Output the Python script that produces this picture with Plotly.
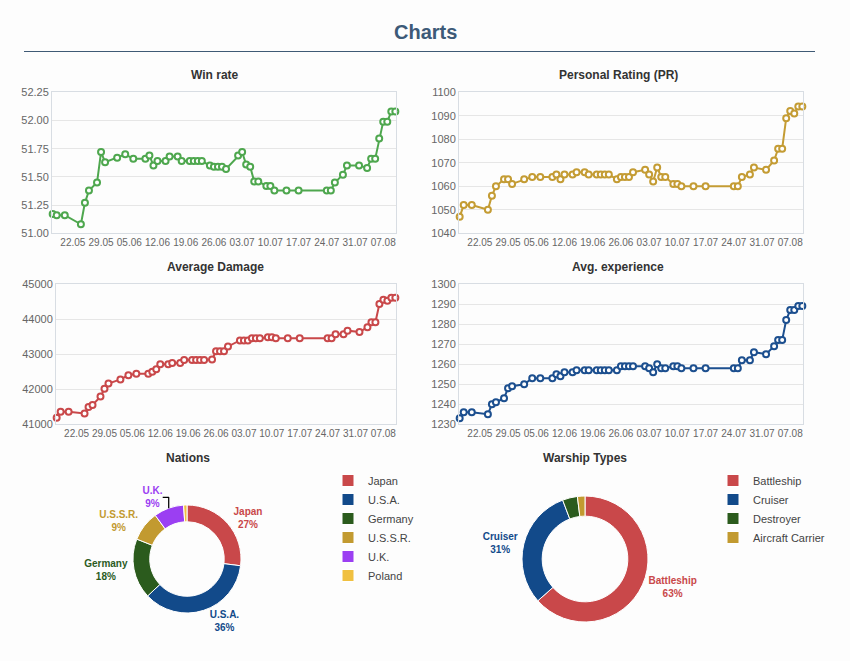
import plotly.graph_objects as go

W, H = 850, 661

# ---------------- data ----------------
dates = [
    "2017-05-17", "2017-05-18", "2017-05-20", "2017-05-24", "2017-05-25", "2017-05-26",
    "2017-05-28", "2017-05-29", "2017-05-30", "2017-06-02", "2017-06-04", "2017-06-06",
    "2017-06-09", "2017-06-10", "2017-06-11", "2017-06-12", "2017-06-14", "2017-06-15",
    "2017-06-17", "2017-06-18", "2017-06-20", "2017-06-21", "2017-06-22", "2017-06-23",
    "2017-06-25", "2017-06-26", "2017-06-27", "2017-06-28", "2017-06-29", "2017-07-02",
    "2017-07-03", "2017-07-04", "2017-07-05", "2017-07-06", "2017-07-07", "2017-07-09",
    "2017-07-10", "2017-07-11", "2017-07-14", "2017-07-17", "2017-07-24", "2017-07-25",
    "2017-07-26", "2017-07-28", "2017-07-29", "2017-08-01", "2017-08-03", "2017-08-04",
    "2017-08-05", "2017-08-06", "2017-08-07", "2017-08-08", "2017-08-09", "2017-08-10",
]

win_rate = [
    51.17, 51.16, 51.16, 51.08, 51.27, 51.38, 51.45, 51.72, 51.63, 51.67,
    51.70, 51.66, 51.66, 51.69, 51.60, 51.64, 51.64, 51.68, 51.68, 51.64,
    51.64, 51.64, 51.64, 51.64, 51.60, 51.59, 51.59, 51.59, 51.57, 51.69,
    51.72, 51.61, 51.59, 51.46, 51.46, 51.42, 51.42, 51.38, 51.38, 51.38,
    51.38, 51.38, 51.45, 51.52, 51.60, 51.60, 51.58, 51.66, 51.66, 51.84,
    51.99, 51.99, 52.08, 52.08,
]

personal_rating = [
    1047, 1052, 1052, 1050, 1056, 1060, 1063, 1063, 1061, 1063,
    1064, 1064, 1064, 1065, 1063, 1065, 1065, 1066, 1066, 1065,
    1065, 1065, 1065, 1065, 1063, 1064, 1064, 1064, 1066, 1067,
    1065, 1062, 1068, 1064, 1064, 1061, 1061, 1060, 1060, 1060,
    1060, 1060, 1064, 1065, 1068, 1067, 1071, 1076, 1076, 1089,
    1092, 1091, 1094, 1094,
]

avg_damage = [
    41190, 41360, 41360, 41310, 41490, 41550, 41790, 42010, 42160, 42280,
    42400, 42440, 42440, 42500, 42570, 42710, 42710, 42750, 42750, 42830,
    42830, 42830, 42830, 42830, 42850, 43080, 43080, 43080, 43220, 43390,
    43390, 43390, 43450, 43450, 43450, 43480, 43480, 43450, 43450, 43450,
    43450, 43450, 43570, 43570, 43670, 43630, 43770, 43910, 43910, 44430,
    44550, 44520, 44610, 44610,
]

avg_exp = [
    1233, 1236, 1236, 1235, 1240, 1241, 1243, 1248, 1249, 1250,
    1253, 1253, 1253, 1255, 1254, 1256, 1256, 1257, 1257, 1257,
    1257, 1257, 1257, 1257, 1257, 1259, 1259, 1259, 1259, 1259,
    1258, 1256, 1260, 1258, 1258, 1259, 1259, 1258, 1258, 1258,
    1258, 1258, 1262, 1262, 1266, 1265, 1269, 1272, 1272, 1282,
    1287, 1287, 1289, 1289,
]

nations = ["Japan", "U.S.A.", "Germany", "U.S.S.R.", "U.K.", "Poland"]
nation_values = [27, 36, 18, 9, 9, 1]

ship_types = ["Battleship", "Cruiser", "Destroyer", "Aircraft Carrier"]
ship_values = [33, 16, 2, 1]

# ---------------- styles ----------------
FONT = "Liberation Sans, Arial, sans-serif"
GREEN = "#4ea74e"
GOLD = "#c49c34"
RED = "#c9484a"
BLUE = "#1c4f8f"
nation_colors = ["#c9484a", "#124a8a", "#2b5b1d", "#c29a30", "#9b3ff2", "#f0c040"]
ship_colors = ["#c9484a", "#124a8a", "#2b5b1d", "#c29a30"]


def px_x(p):
    return p / W


def px_y(p):
    return 1 - p / H


fig = go.Figure()

line_specs = [
    (win_rate, GREEN, "x", "y"),
    (personal_rating, GOLD, "x2", "y2"),
    (avg_damage, RED, "x3", "y3"),
    (avg_exp, BLUE, "x4", "y4"),
]
for vals, col, xa, ya in line_specs:
    fig.add_trace(go.Scatter(
        x=dates, y=vals, mode="lines+markers", xaxis=xa, yaxis=ya,
        line=dict(color=col, width=2),
        marker=dict(symbol="circle", size=6, color="white",
                    line=dict(color=col, width=2)),
        cliponaxis=False, showlegend=False, hoverinfo="x+y",
    ))

# donuts
nation_tpl = ["<b>%{label}</b><br><b>%{percent:.0%}</b>"] * 5 + [""]
nation_pos = ["outside"] * 5 + ["none"]
fig.add_trace(go.Pie(
    labels=nations, values=nation_values, hole=0.69, sort=False,
    direction="clockwise", rotation=0,
    marker=dict(colors=nation_colors, line=dict(color="white", width=1)),
    texttemplate=nation_tpl, textposition=nation_pos,
    outsidetextfont=dict(color=nation_colors, size=10, family=FONT),
    domain=dict(x=[px_x(133), px_x(241)], y=[px_y(613), px_y(505)]),
    legend="legend", showlegend=True, automargin=False,
))
fig.add_trace(go.Pie(
    labels=ship_types, values=ship_values, hole=0.68, sort=False,
    direction="clockwise", rotation=0,
    marker=dict(colors=ship_colors, line=dict(color="white", width=1)),
    texttemplate=["<b>%{label}</b><br><b>%{percent:.0%}</b>"] * 2 + ["", ""],
    textposition=["outside", "outside", "none", "none"],
    outsidetextfont=dict(color=ship_colors, size=10, family=FONT),
    domain=dict(x=[px_x(522), px_x(648)], y=[px_y(622), px_y(496)]),
    legend="legend2", showlegend=True, automargin=False,
))

# ---------------- axes ----------------
xcommon = dict(
    type="date", range=["2017-05-16 20:00", "2017-08-10 04:00"],
    tick0="2017-05-22", dtick=7 * 24 * 3600 * 1000, tickformat="%d.%m",
    tickangle=0, automargin=False,
    showgrid=False, showline=True, linecolor="#d8dde3", linewidth=1, mirror=True,
    ticks="", tickfont=dict(size=10, color="#666666", family=FONT),
    zeroline=False,
)
ycommon = dict(
    showgrid=True, gridcolor="#e6e6e6", gridwidth=1, showline=True,
    linecolor="#d8dde3", mirror=True, ticks="", zeroline=False, automargin=False,
    tickfont=dict(size=11, color="#666666", family=FONT),
)

top_y = [px_y(233.3), px_y(92.3)]
bot_y = [px_y(424.3), px_y(284)]

fig.update_layout(
    xaxis=dict(domain=[px_x(52), px_x(396)], anchor="y", **xcommon),
    yaxis=dict(domain=top_y, anchor="x", range=[51.0, 52.25], dtick=0.25,
               tickformat=".2f", **ycommon),
    xaxis2=dict(domain=[px_x(459), px_x(803)], anchor="y2", **xcommon),
    yaxis2=dict(domain=top_y, anchor="x2", range=[1040, 1100], dtick=10,
                tickformat="d", **ycommon),
    xaxis3=dict(domain=[px_x(56), px_x(396)], anchor="y3", **xcommon),
    yaxis3=dict(domain=bot_y, anchor="x3", range=[41000, 45000], dtick=1000,
                tickformat="d", **ycommon),
    xaxis4=dict(domain=[px_x(459), px_x(803)], anchor="y4", **xcommon),
    yaxis4=dict(domain=bot_y, anchor="x4", range=[1230, 1300], dtick=10,
                tickformat="d", **ycommon),
)

# ---------------- titles ----------------
annots = [
    ("Charts", 425, 32, 20, "#3d5a78"),
    ("Win rate", 215, 75, 12, "#333333"),
    ("Personal Rating (PR)", 618, 75, 12, "#333333"),
    ("Average Damage", 215, 267, 12, "#333333"),
    ("Avg. experience", 618, 267, 12, "#333333"),
    ("Nations", 188, 458, 12, "#333333"),
    ("Warship Types", 585, 458, 12, "#333333"),
]
annotations = [
    dict(text=f"<b>{t}</b>", x=px_x(x), y=px_y(y), xref="paper", yref="paper",
         xanchor="center", yanchor="middle", showarrow=False,
         font=dict(size=s, color=c, family=FONT))
    for t, x, y, s, c in annots
]

fig.update_layout(
    width=W, height=H, autosize=False,
    margin=dict(l=0, r=0, t=0, b=0, pad=0, autoexpand=False),
    paper_bgcolor="#fdfdfd", plot_bgcolor="#fdfdfd",
    font=dict(family=FONT, color="#333333"),
    annotations=annotations,
    shapes=[dict(type="line", xref="paper", yref="paper",
                 x0=px_x(24), x1=px_x(815), y0=px_y(51.5), y1=px_y(51.5),
                 line=dict(color="#3f5a75", width=1))],
    legend=dict(x=px_x(328), y=px_y(466), xanchor="left", yanchor="top",
                font=dict(size=11, color="#444444", family=FONT),
                bgcolor="rgba(0,0,0,0)", itemwidth=30, tracegroupgap=0),
    legend2=dict(x=px_x(713), y=px_y(466), xanchor="left", yanchor="top",
                 font=dict(size=11, color="#444444", family=FONT),
                 bgcolor="rgba(0,0,0,0)", itemwidth=30, tracegroupgap=0),
    hovermode="closest",
)

fig.write_html(
    "out.html",
    config={"displayModeBar": False},
    post_script=(
        "document.body.style.margin='0px';"
        "document.body.style.overflow='hidden';"
        "var gd=document.getElementById('{plot_id}');"
        "gd.style.position='fixed';gd.style.left='0px';gd.style.top='0px';"
    ),
)
